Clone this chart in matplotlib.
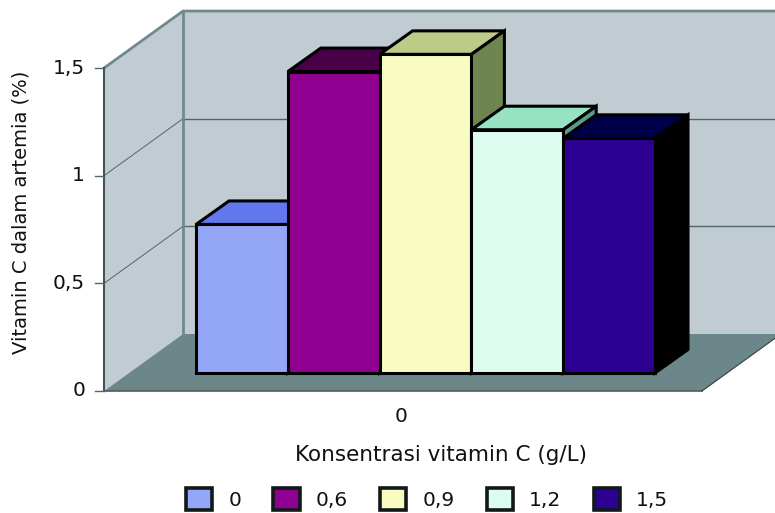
import matplotlib
matplotlib.use('Agg')
import matplotlib.pyplot as plt
from matplotlib.patches import Polygon, Patch

# data
series = ['0', '0,6', '0,9', '1,2', '1,5']
values = [0.69, 1.40, 1.48, 1.13, 1.09]
y_ticks = [0, 0.5, 1, 1.5]
y_tick_labels = ['0', '0,5', '1', '1,5']
category = '0'

front_colors = ['#94A6F8', '#900090', '#F8FCC0', '#DCFCF0', '#2C0090']
top_colors = ['#6478EE', '#4A0048', '#BCCB85', '#98E2C4', '#00004A']
side_colors = ['#4C5A9C', '#5A005A', '#6E8550', '#5A9A8C', '#000000']

wall_color = '#C0CCD2'
floor_color = '#6B878A'
edge_gray = '#6F8A8E'
grid_color = '#4F6669'

# scale of the picture: pixels per unit on each axis
px_x = 91.8
px_y = 215.3
left_px = 196
zero_px = 391

# depth of the room and of the bars, in axis units
wall_dx, wall_dy = 79 / px_x, 57 / px_y
bar_dx, bar_dy = 33 / px_x, 23.5 / px_y
bar_base = 18 / px_y
room_x0 = (104 - left_px) / px_x
room_x1 = (702 - left_px) / px_x
y_top = y_ticks[-1]

plt.rcParams['font.family'] = ['DejaVu Sans']
fig = plt.figure(figsize=(7.75, 5.13), dpi=100)
ax = fig.add_axes([0, 0, 1, 1])
ax.set_xlim(-left_px / px_x, (775 - left_px) / px_x)
ax.set_ylim((zero_px - 513) / px_y, zero_px / px_y)
ax.axis('off')


def face(points, color, **kw):
    ax.add_patch(Polygon(points, closed=True, facecolor=color, **kw))


# left wall, back wall and floor
face([(room_x0, 0), (room_x0, y_top), (room_x0 + wall_dx, y_top + wall_dy), (room_x0 + wall_dx, wall_dy)],
     wall_color, edgecolor='none')
face([(room_x0 + wall_dx, wall_dy), (room_x0 + wall_dx, y_top + wall_dy),
      (room_x1 + wall_dx, y_top + wall_dy), (room_x1 + wall_dx, wall_dy)], wall_color, edgecolor='none')
face([(room_x0, 0), (room_x1, 0), (room_x1 + wall_dx, wall_dy), (room_x0 + wall_dx, wall_dy)],
     floor_color, edgecolor='none')

# gridlines on the walls
for t in y_ticks[1:-1]:
    ax.plot([room_x0, room_x0 + wall_dx], [t, t + wall_dy], color=grid_color, lw=0.7)
    ax.plot([room_x0 + wall_dx, room_x1 + wall_dx], [t + wall_dy, t + wall_dy], color=grid_color, lw=1)

# wall outline
ax.plot([room_x0, room_x0 + wall_dx, room_x1 + wall_dx], [y_top, y_top + wall_dy, y_top + wall_dy],
        color=edge_gray, lw=2)
ax.plot([room_x0 + wall_dx] * 2, [wall_dy, y_top + wall_dy], color=edge_gray, lw=2)
ax.plot([room_x0, room_x1], [0, 0], color='#4F5F60', lw=1.2)
ax.plot([room_x1, room_x1 + wall_dx], [0, wall_dy], color='#30403F', lw=0.8)

# value axis
ax.plot([room_x0, room_x0], [0, y_top], color='#3F5558', lw=1.5)
for t, lab in zip(y_ticks, y_tick_labels):
    ax.plot([room_x0 - 9 / px_x, room_x0], [t, t], color='#4F6669', lw=1)
    ax.text(room_x0 - 19 / px_x, t, lab, ha='right', va='center', fontsize=14.5, color='#111111')

# bars, left to right so each one overlaps the one before
for i, v in enumerate(values):
    top = bar_base + v
    style = dict(edgecolor='black', lw=2.2, joinstyle='miter', zorder=3)
    face([(i, top), (i + 1, top), (i + 1 + bar_dx, top + bar_dy), (i + bar_dx, top + bar_dy)],
         top_colors[i], **style)
    face([(i + 1, bar_base), (i + 1 + bar_dx, bar_base + bar_dy), (i + 1 + bar_dx, top + bar_dy), (i + 1, top)],
         side_colors[i], **style)
    face([(i, bar_base), (i + 1, bar_base), (i + 1, top), (i, top)], front_colors[i], **style)

# axis texts
ax.text((401 - left_px) / px_x, -25 / px_y, category, ha='center', va='center', fontsize=14.5, color='#111111')
ax.text((441 - left_px) / px_x, -64 / px_y, 'Konsentrasi vitamin C (g/L)', ha='center', va='center',
        fontsize=15.5, color='#111111')
ax.text((21 - left_px) / px_x, (zero_px - 212) / px_y, 'Vitamin C dalam artemia (%)', rotation=90,
        ha='center', va='center', fontsize=14, color='#111111')

handles = [Patch(facecolor=c, edgecolor='#101818', lw=2.6, label=s) for c, s in zip(front_colors, series)]
ax.legend(handles=handles, ncol=5, loc='center', bbox_to_anchor=(427 / 775, 1 - 499 / 513), frameon=False,
          fontsize=14.5, handlelength=1.3, handleheight=1.25, handletextpad=0.8, columnspacing=1.6,
          labelcolor='#111111', borderpad=0)

fig.savefig('out.png', dpi=100)
